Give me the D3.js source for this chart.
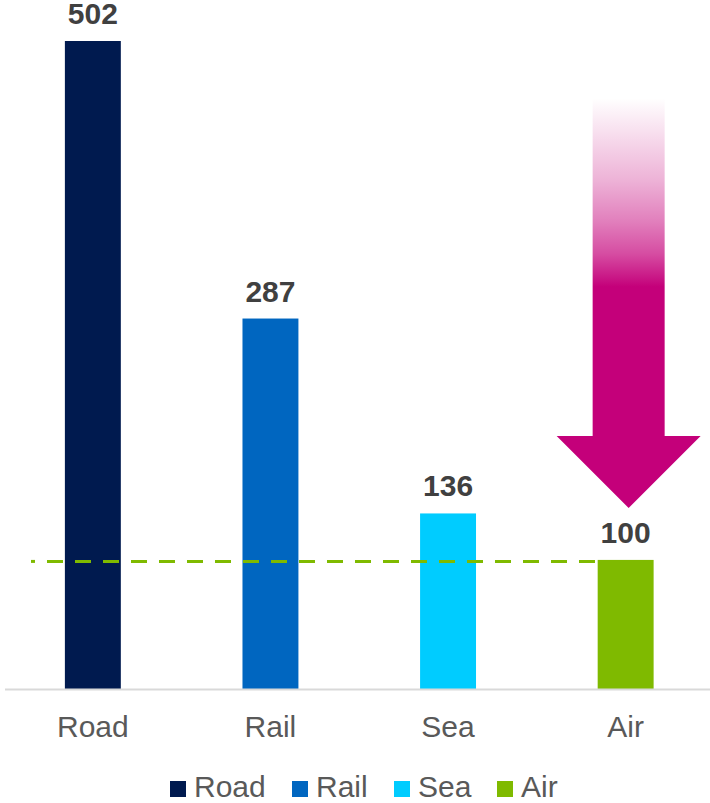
<!DOCTYPE html>
<html><head><meta charset="utf-8">
<script src="https://cdn.jsdelivr.net/npm/d3@7"></script>
<style>body{margin:0;background:#fff}svg{display:block}text{font-family:"Liberation Sans",Arial,sans-serif}</style>
</head><body><svg id="c" width="710" height="803"></svg>
<script>
const categories = ["Road","Rail","Sea","Air"];
const values = [502,287,136,100];
const colors = ["#001A4F","#0066C0","#00CCFF","#7FBA00"];
const refValue = 100;

(function(){
const svg = d3.select("#c");
const W = 710;
const x = d3.scaleBand().domain(categories).range([4.5, 714]).paddingInner(0.685).paddingOuter(0.34);
const y = d3.scaleLinear().domain([0, 502]).range([689, 41]);

const defs = svg.append("defs");

// bars
svg.selectAll("rect.bar").data(categories).join("rect").attr("class","bar")
  .attr("x", d => x(d)).attr("width", x.bandwidth())
  .attr("y", (d,i) => y(values[i])).attr("height", (d,i) => y(0) - y(values[i]))
  .attr("fill", (d,i) => colors[i]);

// axis line
svg.append("line").attr("x1",5).attr("x2",W).attr("y1",y(0)+0.5).attr("y2",y(0)+0.5)
  .attr("stroke","#D9D9D9").attr("stroke-width",2);

// dashed reference line
const ry = y(refValue) + 1.5;
svg.append("line").attr("x1",31).attr("x2",35).attr("y1",ry).attr("y2",ry)
  .attr("stroke","#7FBA00").attr("stroke-width",3);
svg.append("line").attr("x1",47).attr("x2",x("Air")+x.bandwidth()).attr("y1",ry).attr("y2",ry)
  .attr("stroke","#7FBA00").attr("stroke-width",3).attr("stroke-dasharray","16 12");

// arrow
const ax = x("Air") + x.bandwidth()/2 + 3;
const sh = 36, hw = 72;
const yTop = 98, headY = 436, tipY = 508;
const arrowPath = `M${ax-sh},${yTop} L${ax+sh},${yTop} L${ax+sh},${headY} L${ax+hw},${headY} L${ax},${tipY} L${ax-hw},${headY} L${ax-sh},${headY} Z`;
const gsh = defs.append("linearGradient").attr("id","sg").attr("gradientUnits","userSpaceOnUse")
  .attr("x1",0).attr("y1",yTop).attr("x2",0).attr("y2",tipY);
[[0,0],[0.08,0.12],[0.2,0.3],[0.3,0.5],[0.38,0.7],[0.44,0.92],[0.46,1],[1,1]].forEach(s =>
  gsh.append("stop").attr("offset",s[0]).attr("stop-color","#C4007A").attr("stop-opacity",s[1]));
svg.append("path").attr("d",arrowPath).attr("fill","url(#sg)");

// value labels
svg.selectAll("text.val").data(categories).join("text").attr("class","val")
  .attr("x", d => x(d)+x.bandwidth()/2).attr("y", (d,i) => y(values[i]) - 17)
  .attr("text-anchor","middle").attr("font-size",30).attr("font-weight","bold").attr("fill","#404040")
  .text((d,i) => values[i]);

// category labels
svg.selectAll("text.cat").data(categories).join("text").attr("class","cat")
  .attr("x", d => x(d)+x.bandwidth()/2).attr("y", 737)
  .attr("text-anchor","middle").attr("font-size",30).attr("fill","#595959")
  .text(d => d);

// legend
const legX = [170, 292, 394, 497];
const lg = svg.selectAll("g.leg").data(categories).join("g").attr("class","leg")
  .attr("transform",(d,i)=>`translate(${legX[i]},781)`);
lg.append("rect").attr("width",16).attr("height",16).attr("fill",(d,i)=>colors[i]);
lg.append("text").attr("x",24).attr("y",16).attr("font-size",30).attr("fill","#595959").text(d=>d);
})();
</script></body></html>
